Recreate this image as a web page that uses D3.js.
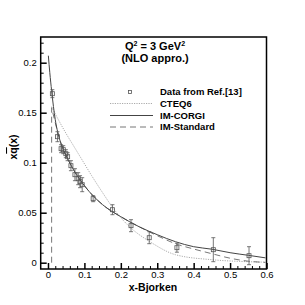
<!DOCTYPE html>
<html>
<head>
<meta charset="utf-8">
<script src="https://cdn.jsdelivr.net/npm/d3@7"></script>
<style>
  body { margin: 0; background: #fff; }
  svg text { font-family: "Liberation Sans", Arial, Helvetica, sans-serif; }
</style>
</head>
<body>
<svg id="chart" width="305" height="305"></svg>
<script>
// data points (x, xqbar, error)
var dataX   = [0.012, 0.026, 0.036, 0.042, 0.049, 0.054, 0.063, 0.074, 0.083, 0.088, 0.094, 0.124, 0.177, 0.228, 0.278, 0.354, 0.454, 0.552];
var dataY   = [0.169, 0.126, 0.114, 0.113, 0.109, 0.106, 0.097, 0.088, 0.084, 0.081, 0.078, 0.064, 0.053, 0.037, 0.025, 0.015, 0.013, 0.007];
var dataErr = [0.004, 0.005, 0.004, 0.004, 0.004, 0.004, 0.005, 0.006, 0.006, 0.006, 0.007, 0.003, 0.005, 0.006, 0.006, 0.0045, 0.012, 0.009];

// CTEQ6 (dotted)
var cteqX = [0.01, 0.03, 0.05, 0.07, 0.09, 0.12, 0.15, 0.18, 0.2, 0.23, 0.28, 0.35, 0.45, 0.55, 0.6];
var cteqY = [0.156, 0.142, 0.129, 0.117, 0.105, 0.087, 0.070, 0.054, 0.045, 0.034, 0.021, 0.008, 0.003, 0.001, 0.0005];

// IM-CORGI (solid)
var corgiX = [0.001, 0.005, 0.01, 0.02, 0.03, 0.04, 0.05, 0.07, 0.1, 0.15, 0.2, 0.25, 0.3, 0.35, 0.4, 0.45, 0.5, 0.55, 0.6];
var corgiY = [0.207, 0.190, 0.172, 0.143, 0.126, 0.115, 0.107, 0.093, 0.077, 0.058, 0.046, 0.036, 0.028, 0.021, 0.016, 0.0135, 0.010, 0.0074, 0.0047];

// IM-Standard (dashed)
var stdX = [0.01, 0.01, 0.02, 0.03, 0.04, 0.05, 0.07, 0.1, 0.15, 0.2, 0.25, 0.3, 0.35, 0.4, 0.45, 0.5, 0.55, 0.6];
var stdY = [0, 0.155, 0.140, 0.126, 0.115, 0.107, 0.093, 0.077, 0.058, 0.046, 0.036, 0.027, 0.019, 0.0137, 0.009, 0.0045, 0.0015, 0.0003];

var xTicks = [0, 0.1, 0.2, 0.3, 0.4, 0.5, 0.6];
var yTicks = [0, 0.05, 0.1, 0.15, 0.2];
var legendLabels = ["Data from Ref.[13]", "CTEQ6", "IM-CORGI", "IM-Standard"];

var svg = d3.select("#chart");

var x = d3.scaleLinear().domain([-0.02, 0.6]).range([40.7, 266.5]);
var y = d3.scaleLinear().domain([-0.0063, 0.2257]).range([269, 37]);

var fmt = function(d) { return d === 0 ? "0" : String(+d.toFixed(2)); };

// minor ticks
var xMinor = d3.range(0, 0.6001, 0.02).filter(function(d) { return Math.abs(d * 10 - Math.round(d * 10)) > 1e-6; });
var yMinor = d3.range(0, 0.2201, 0.01).filter(function(d) { return Math.abs(d * 20 - Math.round(d * 20)) > 1e-6; });

svg.append("g").attr("transform", "translate(0,269)")
  .call(d3.axisBottom(x).tickValues(xMinor).tickSize(-3).tickFormat(""))
  .call(function(g) { g.select(".domain").remove(); g.selectAll("line").attr("stroke", "#000"); });
svg.append("g").attr("transform", "translate(40.7,0)")
  .call(d3.axisLeft(y).tickValues(yMinor).tickSize(-3).tickFormat(""))
  .call(function(g) { g.select(".domain").remove(); g.selectAll("line").attr("stroke", "#000"); });

var xAxis = svg.append("g").attr("transform", "translate(0,269)")
  .call(d3.axisBottom(x).tickValues(xTicks).tickSize(-6).tickPadding(2).tickFormat(fmt));
xAxis.select(".domain").remove();
xAxis.selectAll("line").attr("stroke", "#000").attr("stroke-width", 1.5);
xAxis.selectAll("text").attr("font-size", "9.5px").attr("fill", "#000");

var yAxis = svg.append("g").attr("transform", "translate(40.7,0)")
  .call(d3.axisLeft(y).tickValues(yTicks).tickSize(-6).tickPadding(4).tickFormat(fmt));
yAxis.select(".domain").remove();
yAxis.selectAll("line").attr("stroke", "#000").attr("stroke-width", 1.5);
yAxis.selectAll("text").attr("font-size", "9.5px").attr("fill", "#000");

// frame
svg.append("rect")
  .attr("x", 40.7).attr("y", 37).attr("width", 266.5 - 40.7).attr("height", 269 - 37)
  .attr("fill", "none").attr("stroke", "#000").attr("stroke-width", 1.5);

svg.append("clipPath").attr("id", "plotclip")
  .append("rect").attr("x", 41.5).attr("y", 37.5).attr("width", 224).attr("height", 231);

var plot = svg.append("g").attr("clip-path", "url(#plotclip)");

var line = d3.line().curve(d3.curveMonotoneX);
var linePts = function(xs, ys) { return xs.map(function(v, i) { return [x(v), y(ys[i])]; }); };

plot.append("path").attr("d", line(linePts(cteqX, cteqY)))
  .attr("fill", "none").attr("stroke", "#aaa").attr("stroke-width", 1).attr("stroke-dasharray", "1.2,1.2");

plot.append("path").attr("d", d3.line()(linePts(stdX.slice(0, 2), stdY.slice(0, 2))) + line(linePts(stdX.slice(1), stdY.slice(1))).replace(/^M/, "L"))
  .attr("fill", "none").attr("stroke", "#777").attr("stroke-width", 1).attr("stroke-dasharray", "6,4");

plot.append("path").attr("d", line(linePts(corgiX, corgiY)))
  .attr("fill", "none").attr("stroke", "#444").attr("stroke-width", 1);

// data points with error bars
var pts = plot.selectAll("g.pt").data(dataX.map(function(v, i) { return { x: v, y: dataY[i], e: dataErr[i] }; }))
  .enter().append("g").attr("class", "pt");
pts.append("line")
  .attr("x1", function(d) { return x(d.x); }).attr("x2", function(d) { return x(d.x); })
  .attr("y1", function(d) { return y(d.y - d.e); }).attr("y2", function(d) { return y(d.y + d.e); })
  .attr("stroke", "#555").attr("stroke-width", 0.8);
[-1, 1].forEach(function(s) {
  pts.append("line")
    .attr("x1", function(d) { return x(d.x) - 2; }).attr("x2", function(d) { return x(d.x) + 2; })
    .attr("y1", function(d) { return y(d.y + s * d.e); }).attr("y2", function(d) { return y(d.y + s * d.e); })
    .attr("stroke", "#555").attr("stroke-width", 0.8);
});
pts.append("rect")
  .attr("x", function(d) { return x(d.x) - 2; }).attr("y", function(d) { return y(d.y) - 2; })
  .attr("width", 4).attr("height", 4)
  .attr("fill", "none").attr("stroke", "#555").attr("stroke-width", 0.8);

// legend
var legY = [92, 103.5, 115.5, 127];
var leg = svg.append("g");
leg.append("rect").attr("x", 128.5).attr("y", legY[0] - 1.5).attr("width", 3).attr("height", 3)
  .attr("fill", "none").attr("stroke", "#555").attr("stroke-width", 0.8);
leg.append("line").attr("x1", 110).attr("x2", 153).attr("y1", legY[1]).attr("y2", legY[1])
  .attr("stroke", "#aaa").attr("stroke-dasharray", "1.2,1.2");
leg.append("line").attr("x1", 110).attr("x2", 153).attr("y1", legY[2]).attr("y2", legY[2])
  .attr("stroke", "#444");
leg.append("line").attr("x1", 110).attr("x2", 153).attr("y1", legY[3]).attr("y2", legY[3])
  .attr("stroke", "#777").attr("stroke-dasharray", "6,4");
leg.selectAll("text").data(legendLabels).enter().append("text")
  .attr("x", 160).attr("y", function(d, i) { return legY[i] + 3.3; })
  .attr("font-size", "9.5px").attr("font-weight", "bold").text(function(d) { return d; });

// title
var t1 = svg.append("text").attr("x", 155).attr("y", 50).attr("text-anchor", "middle")
  .attr("font-size", "11px").attr("font-weight", "bold");
t1.append("tspan").text("Q");
t1.append("tspan").attr("font-size", "7px").attr("dy", -4).text("2");
t1.append("tspan").attr("dy", 4).text(" = 3 GeV");
t1.append("tspan").attr("font-size", "7px").attr("dy", -4).text("2");
svg.append("text").attr("x", 155).attr("y", 62).attr("text-anchor", "middle")
  .attr("font-size", "11px").attr("font-weight", "bold").text("(NLO appro.)");

// axis titles
svg.append("text").attr("x", 153).attr("y", 290.5).attr("text-anchor", "middle")
  .attr("font-size", "10.5px").attr("font-weight", "bold").text("x-Bjorken");
var yt = svg.append("text").attr("transform", "translate(17,147) rotate(-90)").attr("text-anchor", "middle")
  .attr("font-size", "10.5px").attr("font-weight", "bold");
yt.append("tspan").text("x");
yt.append("tspan").style("text-decoration", "overline").text("q");
yt.append("tspan").text("(x)");
</script>
</body>
</html>
